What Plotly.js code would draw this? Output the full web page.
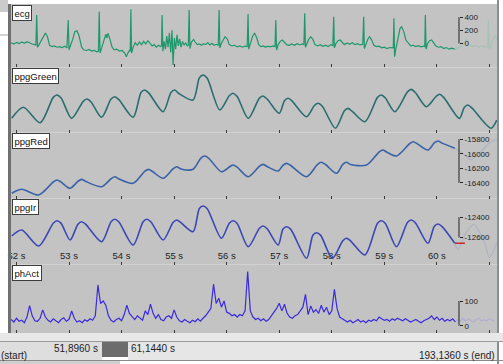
<!DOCTYPE html>
<html><head><meta charset="utf-8">
<script src="https://cdn.plot.ly/plotly-3.0.1.min.js"></script>
<style>html,body{margin:0;padding:0;background:#fff;overflow:hidden}#c{width:503px;height:364px}</style>
</head><body><div id="c"></div>
<script>
// ---- data (time in s, values in channel units) ----
const channelNames = ['ecg', 'ppgGreen', 'ppgRed', 'ppgIr', 'phAct'];
const viewStart = 51.896, viewEnd = 61.144, recordEnd = 193.136;
const secTicks = [52, 53, 54, 55, 56, 57, 58, 59, 60, 61];
const secLabels = ['52 s', '53 s', '54 s', '55 s', '56 s', '57 s', '58 s', '59 s', '60 s', ''];

const ecgPts = [[51.90,10],[51.95,-10],[52.00,15],[52.05,-5],[52.10,20],[52.15,0],[52.20,25],[52.25,5],[52.30,-10],[52.35,-20],[52.37,-30],[52.385,435],[52.40,-60],[52.43,-20],[52.47,40],[52.52,130],[52.55,158],[52.59,100],[52.63,-30],[52.68,-50],[52.72,-40],[52.77,-60],[52.82,-50],[52.87,-65],[52.92,-45],[52.96,-70],
[52.985,358],[53.00,-100],[53.03,-40],[53.07,60],[53.11,180],[53.15,194],[53.19,120],[53.24,-60],[53.28,-100],[53.33,-110],[53.38,-95],[53.43,-120],[53.48,-110],[53.53,-130],[53.56,-120],
[53.575,486],[53.59,-150],[53.62,-80],[53.66,20],[53.70,140],[53.72,80],[53.74,154],[53.78,60],[53.82,-60],[53.86,-100],[53.91,-90],[53.96,-120],[54.01,-110],[54.06,-150],[54.09,-206],[54.12,-150],[54.15,-110],[54.165,-120],
[54.177,523],[54.19,-150],[54.22,-60],[54.26,10],[54.30,-30],[54.34,20],[54.38,-20],[54.42,30],[54.46,-10],[54.50,40],[54.54,0],[54.58,-40],[54.62,-20],[54.66,-60],[54.70,-30],[54.74,-50],[54.76,-40],
[54.772,435],[54.785,-120],[54.81,30],[54.835,-90],[54.86,110],[54.885,-60],[54.91,160],[54.935,-140],[54.96,200],[54.98,-334],[55.005,80],[55.03,-90],[55.055,130],[55.08,-40],[55.105,70],[55.13,-60],[55.16,30],[55.19,-30],[55.22,10],[55.25,-40],[55.27,-30],
[55.286,512],[55.30,-80],[55.33,20],[55.37,60],[55.40,20],[55.44,-20],[55.48,-10],[55.52,-30],[55.56,-5],[55.60,-20],[55.64,10],[55.68,-25],[55.72,0],[55.76,-30],[55.80,-15],[55.84,-30],
[55.856,512],[55.87,-70],[55.90,0],[55.94,60],[55.97,102],[56.01,70],[56.05,-20],[56.10,-40],[56.15,-30],[56.20,-55],[56.25,-40],[56.30,-60],[56.35,-45],[56.39,-50],
[56.407,450],[56.42,-90],[56.45,0],[56.49,100],[56.53,158],[56.57,90],[56.61,-20],[56.65,-50],[56.70,-40],[56.74,-60],[56.78,-45],[56.83,-55],[56.88,-40],[56.92,-50],
[56.934,358],[56.95,-103],[56.98,-20],[57.02,30],[57.06,51],[57.10,20],[57.14,-20],[57.19,-30],[57.24,-10],[57.29,-30],[57.34,-5],[57.39,-25],[57.44,-10],[57.47,-20],
[57.485,461],[57.50,-60],[57.53,0],[57.56,60],[57.60,102],[57.64,60],[57.68,-20],[57.73,-40],[57.78,-20],[57.83,-45],[57.88,-30],[57.93,-50],[57.98,-20],[58.02,-35],
[58.037,409],[58.05,-70],[58.08,0],[58.12,40],[58.16,51],[58.20,10],[58.24,-20],[58.29,5],[58.34,-15],[58.39,10],[58.44,-20],[58.49,-5],[58.54,-25],[58.59,-15],
[58.607,409],[58.62,-80],[58.65,0],[58.69,70],[58.72,102],[58.76,50],[58.80,-30],[58.85,-50],[58.90,-45],[58.95,-70],[59.00,-60],[59.05,-80],[59.10,-65],[59.15,-75],[59.17,-70],
[59.183,384],[59.195,-206],[59.22,-80],[59.26,100],[59.30,230],[59.33,255],[59.37,180],[59.41,51],[59.46,-10],[59.50,-40],[59.55,-30],[59.60,-50],[59.65,-35],[59.70,-55],[59.75,-45],[59.77,-50],
[59.780,435],[59.795,-90],[59.82,-10],[59.86,40],[59.90,51],[59.94,10],[59.98,-40],[60.03,-60],[60.08,-50],[60.13,-80],[60.18,-65],[60.23,-90],[60.28,-75],[60.34,-90]];
const ecgGhostPts = [[60.34,-90],[60.38,-70],[60.43,-60],[60.48,-40],[60.52,20],[60.56,60],[60.60,0],[60.65,-40],[60.70,-50],[60.75,-30],[60.80,-60],[60.85,-40],[60.90,-55],[60.95,-50],[60.97,-60],[60.98,358],[61.00,-100],[61.03,-20],[61.07,80],[61.10,130],[61.14,60]];
const ecgTicks = [0, 200, 400];
const ecgTickText = ['0', '200', '400'];

const greenPts = [[51.91,21.8],[52.13,38.8],[52.45,15.1],[52.70,54],[52.77,57.7],[52.85,53],[53.05,21.8],[53.27,48],[53.34,51.5],[53.42,47],[53.62,23.4],[53.80,51.5],[53.87,55.1],[53.95,50.5],[54.22,23.4],[54.37,61.5],[54.44,65.4],[54.52,60.5],[54.79,32],[54.94,61.5],[55.01,65.4],[55.09,60],[55.36,50],[55.48,84],[55.55,88.5],[55.63,83.5],[55.87,34.6],[56.05,56.5],[56.12,60.3],[56.20,55.5],[56.41,21.8],[56.62,52.5],[56.69,56.1],[56.77,51.5],[57.00,29.5],[57.10,49],[57.17,52.6],[57.25,48],[57.52,24.3],[57.67,41.5],[57.74,44.9],[57.82,40.5],[58.07,6.5],[58.24,33.5],[58.31,37.2],[58.39,32.5],[58.63,16.6],[58.87,54],[58.94,57.7],[59.02,53],[59.20,32],[59.44,62.5],[59.51,66.4],[59.59,61.5],[59.80,39.7],[59.98,55],[60.05,58.8],[60.13,54],[60.43,21.8],[60.52,38.5],[60.59,42.3],[60.67,37.5],[61.03,6.5],[61.14,19]];

const redPts = [[51.91,-16546],[52.10,-16491],[52.42,-16570],[52.70,-16390],[52.77,-16362],[52.85,-16392],[53.02,-16477],[53.17,-16380],[53.24,-16353],[53.32,-16382],[53.62,-16455],[53.80,-16345],[53.87,-16317],[53.95,-16347],[54.22,-16408],[54.44,-16243],[54.51,-16215],[54.59,-16245],[54.79,-16339],[54.98,-16207],[55.05,-16179],[55.13,-16209],[55.36,-16215],[55.51,-16060],[55.58,-16031],[55.66,-16062],[55.90,-16248],[56.05,-16183],[56.12,-16155],[56.20,-16185],[56.41,-16317],[56.62,-16174],[56.69,-16146],[56.77,-16176],[56.98,-16238],[57.07,-16160],[57.14,-16132],[57.22,-16162],[57.52,-16317],[57.73,-16146],[57.80,-16118],[57.88,-16148],[58.09,-16270],[58.21,-16146],[58.28,-16118],[58.36,-16148],[58.66,-16155],[58.90,-15976],[58.97,-15948],[59.05,-15978],[59.23,-16031],[59.48,-15861],[59.55,-15833],[59.63,-15863],[59.83,-15948],[59.95,-15851],[60.02,-15823],[60.10,-15853],[60.34,-15924]];
const redGhostPts = [[60.34,-15924],[60.50,-16000],[60.65,-16080],[60.85,-15960],[61.00,-15850],[61.14,-15800]];
const redTicks = [-16400, -16200, -16000, -15800];
const redTickText = ['-16400', '-16200', '-16000', '-15800'];

const irPts = [[51.91,-12587],[52.10,-12527],[52.42,-12687],[52.70,-12459],[52.77,-12434],[52.85,-12461],[53.02,-12627],[53.17,-12469],[53.24,-12444],[53.32,-12471],[53.62,-12644],[53.80,-12445],[53.87,-12420],[53.95,-12447],[54.22,-12677],[54.41,-12445],[54.48,-12420],[54.56,-12447],[54.79,-12627],[54.98,-12452],[55.05,-12427],[55.13,-12454],[55.36,-12544],[55.48,-12312],[55.55,-12287],[55.63,-12314],[55.90,-12610],[56.05,-12459],[56.12,-12434],[56.20,-12461],[56.41,-12694],[56.62,-12512],[56.69,-12487],[56.77,-12514],[56.98,-12677],[57.07,-12519],[57.14,-12494],[57.22,-12521],[57.52,-12810],[57.64,-12579],[57.71,-12554],[57.79,-12581],[58.01,-12810],[58.21,-12635],[58.28,-12610],[58.36,-12637],[58.63,-12777],[58.87,-12459],[58.94,-12434],[59.02,-12461],[59.23,-12694],[59.44,-12452],[59.51,-12427],[59.59,-12454],[59.83,-12660],[59.95,-12492],[60.02,-12467],[60.10,-12494],[60.34,-12660]];
const irGhostPts = [[60.34,-12660],[60.40,-12720],[60.55,-12560],[60.70,-12470],[60.90,-12640],[61.00,-12800],[61.14,-12650]];
const irTicks = [-12600, -12400];
const irTickText = ['-12600', '-12400'];

const actStart = 51.90, actStep = 0.05;
const actValues = [25,15,30,18,22,12,35,81,40,20, 18,30,64,35,22,15,28,20,12,25,
  32,18,26,60,30,15,20,12,24,18, 28,22,40,165,90,100,83,40,22,15,
  25,30,20,45,83,50,35,25,40,30, 22,60,45,87,50,30,45,25,20,35,
  40,30,64,35,20,15,25,18,12,22, 16,28,18,30,40,55,70,168,90,111,
  75,100,55,50,40,45,35,45,40,60, 219,60,35,25,30,20,28,18,25,40,
  55,70,91,60,87,50,35,30,40,45, 60,75,127,45,80,55,65,50,83,55,
  75,45,60,147,70,35,28,20,15,22, 12,18,25,15,20,12,22,18,25,20,
  35,28,22,25,18,28,22,30,25,20, 28,22,15,20,25,18,12,20,25,30,
  40,25,35,22,30,18,25,20,28,15];
const actGhostStart = 60.35;
const actGhostValues = [15,25,20,30,18,28,22,15,25,30,18,24,20,28,22,18];
const actTicks = [0, 100];
const actTickText = ['0', '100'];

// ---- build ----
const xs = p => p.map(d => d[0]);
const ys = p => p.map(d => d[1]);
const actT = actValues.map((_, i) => +(actStart + i * actStep).toFixed(3));
const actGT = actGhostValues.map((_, i) => +(actGhostStart + i * actStep).toFixed(3));

const FONT = 'Liberation Sans, Arial, sans-serif';
const SPL = {shape: 'spline', smoothing: 0.8};
const traces = [
  {x: xs(ecgGhostPts), y: ys(ecgGhostPts), xaxis: 'x', yaxis: 'y', mode: 'lines', line: {color: '#a7c3b6', width: 1.2}},
  {x: xs(ecgPts), y: ys(ecgPts), xaxis: 'x', yaxis: 'y', mode: 'lines', line: {color: '#1f976b', width: 1.2}},
  {x: xs(greenPts), y: ys(greenPts), xaxis: 'x2', yaxis: 'y2', mode: 'lines', line: Object.assign({color: '#2a6d6e', width: 1.6}, SPL)},
  {x: xs(redGhostPts), y: ys(redGhostPts), xaxis: 'x3', yaxis: 'y3', mode: 'lines', line: Object.assign({color: '#acb4c2', width: 1.2}, SPL)},
  {x: xs(redPts), y: ys(redPts), xaxis: 'x3', yaxis: 'y3', mode: 'lines', line: Object.assign({color: '#3a62a6', width: 1.6}, SPL)},
  {x: xs(irGhostPts), y: ys(irGhostPts), xaxis: 'x4', yaxis: 'y4', mode: 'lines', line: Object.assign({color: '#b0b2c2', width: 1.2}, SPL)},
  {x: xs(irPts), y: ys(irPts), xaxis: 'x4', yaxis: 'y4', mode: 'lines', line: Object.assign({color: '#3a47b4', width: 1.6}, SPL)},
  {x: [irPts[irPts.length-1][0] + 0.1], y: [irPts[irPts.length-1][1]], xaxis: 'x4', yaxis: 'y4', mode: 'markers', marker: {symbol: 'line-ew', size: 7, line: {color: '#c62828', width: 1.5}}},
  {x: actGT, y: actGhostValues, xaxis: 'x5', yaxis: 'y5', mode: 'lines', line: {color: '#b2aed2', width: 1.2}},
  {x: actT, y: actValues, xaxis: 'x5', yaxis: 'y5', mode: 'lines', line: {color: '#3b2ae0', width: 1.2}}
];

const doms = [[0.807, 1], [0.6094, 0.807], [0.4088, 0.6094], [0.2082, 0.4088], [0, 0.2082]];
const ranges = [[-372, 605], [0, 100], [-16618, -15706], [-12872, -12212], [-29.6, 247.8]];
const tickSets = [[ecgTicks, ecgTickText], null, [redTicks, redTickText], [irTicks, irTickText], [actTicks, actTickText]];
const AXPOS = 0.9218;

const layout = {
  width: 503, height: 364,
  margin: {l: 11, r: 6, t: 4, b: 31, pad: 0},
  paper_bgcolor: '#ffffff', plot_bgcolor: '#c3c3c3',
  showlegend: false, hovermode: false,
  font: {family: FONT, size: 9, color: '#1a1a1a'},
  annotations: [], shapes: []
};

for (let i = 0; i < 5; i++) {
  const xn = i === 0 ? 'xaxis' : 'xaxis' + (i + 1);
  const yn = i === 0 ? 'yaxis' : 'yaxis' + (i + 1);
  const yref = i === 0 ? 'y' : 'y' + (i + 1);
  layout[xn] = {
    anchor: yref, domain: [0, 1], range: [viewStart, viewEnd],
    tickmode: 'array', tickvals: secTicks, ticktext: secLabels,
    ticks: 'inside', ticklen: 3, tickwidth: 1, tickcolor: '#3a3a3a',
    showticklabels: i === 3, ticklabelposition: 'inside', ticklabeloverflow: 'allow',
    tickfont: {family: FONT, size: 9.5, color: '#1e1e1e'},
    showgrid: false, zeroline: false, showline: false, fixedrange: true, layer: 'below traces'
  };
  const ts = tickSets[i];
  layout[yn] = {
    domain: doms[i], range: ranges[i], anchor: 'free', position: AXPOS, side: 'right',
    visible: ts !== null,
    tickmode: 'array', tickvals: ts ? ts[0] : [], ticktext: ts ? ts[1] : [],
    ticks: 'outside', ticklen: 3, tickwidth: 1, tickcolor: '#222',
    tickfont: {family: FONT, size: 8, color: '#222'},
    showgrid: false, zeroline: false, showline: false, fixedrange: true
  };
  if (ts) {
    layout.shapes.push({type: 'line', xref: 'paper', yref: yref, x0: AXPOS, x1: AXPOS,
      y0: ts[0][0], y1: ts[0][ts[0].length - 1], line: {color: '#222', width: 1}});
  }
  layout.annotations.push({
    text: channelNames[i], xref: 'paper', yref: 'paper', x: 0.002, y: doms[i][1] - 0.003,
    xanchor: 'left', yanchor: 'top', showarrow: false,
    font: {family: FONT, size: 9.5, color: '#111'},
    bgcolor: '#ffffff', bordercolor: '#3c3c3c', borderwidth: 1, borderpad: 1.5
  });
  if (i > 0) {
    layout.shapes.push({type: 'line', xref: 'paper', yref: 'paper', x0: 0, x1: 1,
      y0: doms[i][1], y1: doms[i][1], line: {color: '#d2d2d2', width: 1}, layer: 'below'});
  }
}

// window chrome (paper coordinates)
const PX = v => (v - 11) / 486;
const PY = v => (333 - v) / 329;
layout.shapes.push(
  {type: 'rect', xref: 'paper', yref: 'paper', x0: PX(8), x1: PX(11), y0: PY(333), y1: PY(4), fillcolor: '#707070', line: {width: 0}, layer: 'above'},
  {type: 'rect', xref: 'paper', yref: 'paper', x0: PX(0), x1: PX(8), y0: PY(12), y1: PY(0), fillcolor: '#cbcbcb', line: {width: 0}},
  {type: 'line', xref: 'paper', yref: 'paper', x0: PX(0), x1: PX(8), y0: PY(35), y1: PY(35), line: {color: '#a8a8a8', width: 1}},
  {type: 'line', xref: 'paper', yref: 'paper', x0: PX(498), x1: PX(498), y0: PY(364), y1: PY(0), line: {color: '#8c8c8c', width: 2}},
  {type: 'rect', xref: 'paper', yref: 'paper', x0: PX(0), x1: PX(503), y0: PY(341), y1: PY(333), fillcolor: '#e8e8e8', line: {width: 0}},
  {type: 'line', xref: 'paper', yref: 'paper', x0: PX(0), x1: PX(503), y0: PY(341.5), y1: PY(341.5), line: {color: '#9c9c9c', width: 1}},
  {type: 'rect', xref: 'paper', yref: 'paper', x0: PX(0), x1: PX(102), y0: PY(360), y1: PY(342), fillcolor: '#dedede', line: {width: 0}},
  {type: 'rect', xref: 'paper', yref: 'paper', x0: PX(102), x1: PX(128), y0: PY(357), y1: PY(342), fillcolor: '#6c6c6c', line: {width: 0}},
  {type: 'rect', xref: 'paper', yref: 'paper', x0: PX(128), x1: PX(497), y0: PY(360), y1: PY(342), fillcolor: '#e6e6e6', line: {width: 0}},
  {type: 'line', xref: 'paper', yref: 'paper', x0: PX(0), x1: PX(503), y0: PY(360.5), y1: PY(360.5), line: {color: '#8a8a8a', width: 1}},
  {type: 'rect', xref: 'paper', yref: 'paper', x0: PX(0), x1: PX(120), y0: PY(364), y1: PY(361), fillcolor: '#cfcfcf', line: {width: 0}}
);
const fmt = v => v.toFixed(4).replace('.', ',') + ' s';
layout.annotations.push(
  {text: fmt(viewStart), xref: 'paper', yref: 'paper', x: PX(100), y: PY(348), xanchor: 'right', yanchor: 'middle', showarrow: false, font: {family: FONT, size: 10, color: '#222'}},
  {text: '(start)', xref: 'paper', yref: 'paper', x: PX(-1), y: PY(355), xanchor: 'left', yanchor: 'middle', showarrow: false, font: {family: FONT, size: 10, color: '#222'}},
  {text: fmt(viewEnd), xref: 'paper', yref: 'paper', x: PX(129), y: PY(348), xanchor: 'left', yanchor: 'middle', showarrow: false, font: {family: FONT, size: 10, color: '#222'}},
  {text: fmt(recordEnd) + ' (end)', xref: 'paper', yref: 'paper', x: PX(497), y: PY(355), xanchor: 'right', yanchor: 'middle', showarrow: false, font: {family: FONT, size: 10, color: '#222'}}
);

Plotly.newPlot('c', traces, layout, {staticPlot: true, displayModeBar: false});
</script></body></html>
